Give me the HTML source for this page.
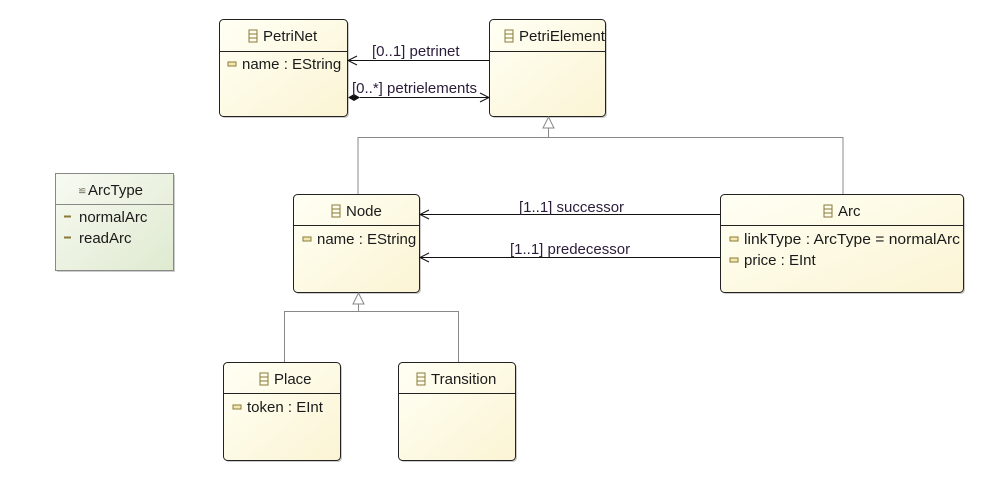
<!DOCTYPE html>
<html><head><meta charset="utf-8"><style>
body{margin:0;background:#fff;width:991px;height:490px;overflow:hidden}
text{font-family:"Liberation Sans",sans-serif;font-size:15px;fill:#1a1a1a}
.lbl{fill:#2b1d3a}
</style></head><body>
<svg width="991" height="490" xmlns="http://www.w3.org/2000/svg">
<defs>
<linearGradient id="g" x1="0" y1="0" x2="1" y2="1"><stop offset="0" stop-color="#fffff4"/><stop offset="1" stop-color="#fbf4d4"/></linearGradient>
<linearGradient id="e" x1="0" y1="0" x2="1" y2="1"><stop offset="0" stop-color="#f7faf2"/><stop offset="1" stop-color="#dfead0"/></linearGradient>
<g id="cls"><rect x="-4" y="-6" width="8" height="12" fill="none" stroke="#8a7a3a" stroke-width="1"/><line x1="-4" y1="-2" x2="4" y2="-2" stroke="#8a7a3a"/><line x1="-4" y1="2" x2="4" y2="2" stroke="#8a7a3a"/></g>
<g id="att"><rect x="-4" y="-2" width="8" height="4" fill="#f3e9b0" stroke="#8a7a3a"/></g>
</defs>
<g fill="#ccc">
<rect x="221" y="21" width="128" height="97" rx="4"/>
<rect x="491" y="21" width="116" height="97" rx="4"/>
<rect x="295" y="196" width="126" height="98" rx="4"/>
<rect x="722" y="196" width="243" height="98" rx="4"/>
<rect x="225" y="364" width="117" height="98" rx="4"/>
<rect x="400" y="364" width="117" height="98" rx="4"/>
<rect x="57" y="175" width="118" height="97"/>
</g>
<g stroke="#222" stroke-width="1" fill="url(#g)">
<rect x="219.5" y="19.5" width="128" height="97" rx="4"/>
<rect x="489.5" y="19.5" width="116" height="97" rx="4"/>
<rect x="293.5" y="194.5" width="126" height="98" rx="4"/>
<rect x="720.5" y="194.5" width="243" height="98" rx="4"/>
<rect x="223.5" y="362.5" width="117" height="98" rx="4"/>
<rect x="398.5" y="362.5" width="117" height="98" rx="4"/>
</g>
<rect x="55.5" y="173.5" width="118" height="97" fill="url(#e)" stroke="#888"/>
<g stroke="#222">
<line x1="220" y1="51.5" x2="347" y2="51.5"/>
<line x1="490" y1="51.5" x2="605" y2="51.5"/>
<line x1="294" y1="225.5" x2="419" y2="225.5"/>
<line x1="721" y1="225.5" x2="963" y2="225.5"/>
<line x1="224" y1="393.5" x2="340" y2="393.5"/>
<line x1="399" y1="393.5" x2="515" y2="393.5"/>
</g>
<line x1="56" y1="204.5" x2="173" y2="204.5" stroke="#888"/>
<use href="#cls" x="253" y="36"/><text x="263" y="41">PetriNet</text>
<use href="#cls" x="509" y="36"/><text x="519" y="41">PetriElement</text>
<use href="#cls" x="336" y="211"/><text x="346" y="216">Node</text>
<use href="#cls" x="828" y="211"/><text x="838" y="216">Arc</text>
<use href="#cls" x="264" y="379"/><text x="274" y="384">Place</text>
<use href="#cls" x="421" y="379"/><text x="431" y="384">Transition</text>
<text x="88" y="195">ArcType</text>
<text x="78" y="194" style="font-size:10px;fill:#665">≌</text>
<use href="#att" x="232" y="64"/><text x="242" y="69">name : EString</text>
<use href="#att" x="307" y="239"/><text x="317" y="244">name : EString</text>
<use href="#att" x="734" y="239"/><text x="744" y="244" textLength="216" lengthAdjust="spacingAndGlyphs">linkType : ArcType = normalArc</text>
<use href="#att" x="734" y="260"/><text x="744" y="265">price : EInt</text>
<use href="#att" x="237" y="407"/><text x="247" y="412">token : EInt</text>
<line x1="64" y1="216.5" x2="71" y2="216.5" stroke="#8a7a3a" stroke-width="2"/><text x="79" y="222">normalArc</text>
<line x1="64" y1="237.5" x2="71" y2="237.5" stroke="#8a7a3a" stroke-width="2"/><text x="79" y="243">readArc</text>
<g stroke="#111" fill="none">
<line x1="489" y1="60.5" x2="348" y2="60.5"/><polyline points="357,56 348,60.5 357,65"/>
<line x1="360" y1="97.5" x2="489" y2="97.5"/><polyline points="480,93 489,97.5 480,102"/>
<line x1="720" y1="214.5" x2="420" y2="214.5"/><polyline points="429,210 420,214.5 429,219"/>
<line x1="720" y1="257.5" x2="420" y2="257.5"/><polyline points="429,253 420,257.5 429,262"/>
</g>
<polygon points="348,97.5 354,94 360,97.5 354,101" fill="#111"/>
<text x="372" y="56" class="lbl">[0..1] petrinet</text>
<text x="352" y="93" class="lbl">[0..*] petrielements</text>
<text x="519" y="212" class="lbl">[1..1] successor</text>
<text x="510" y="254" class="lbl">[1..1] predecessor</text>
<g stroke="#888" fill="none">
<polyline points="358,194 358,137.5 843,137.5 843,194"/>
<line x1="548.5" y1="128" x2="548.5" y2="137"/>
<polygon points="548.5,117 543,128 554,128" fill="#fff"/>
<polyline points="284.5,362 284.5,311.5 458.5,311.5 458.5,362"/>
<line x1="358.5" y1="304" x2="358.5" y2="311"/>
<polygon points="358.5,293 353,304 364,304" fill="#fff"/>
</g>
</svg>
</body></html>
